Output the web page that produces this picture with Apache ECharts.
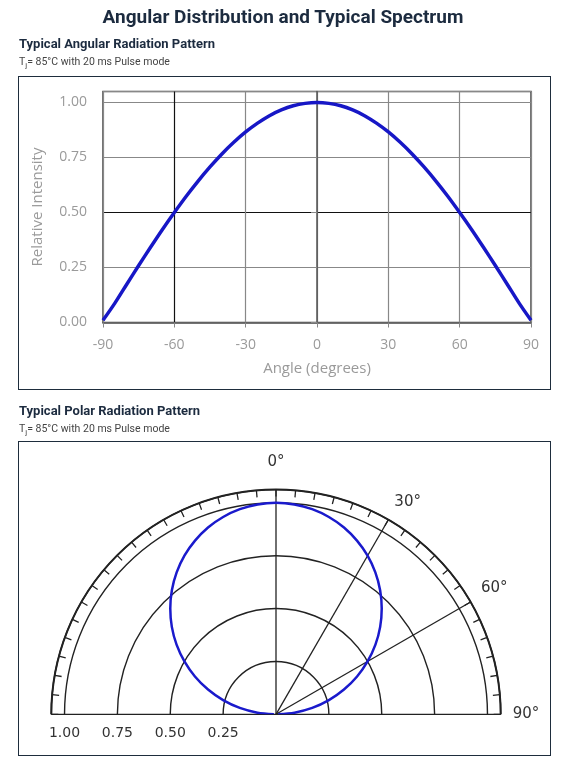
<!DOCTYPE html>
<html>
<head>
<meta charset="utf-8">
<script src="https://cdn.jsdelivr.net/npm/echarts@6/dist/echarts.min.js"></script>
<style>
  body { margin: 0; background: #fff; }
  #page { position: relative; width: 566px; height: 768px; font-family: Roboto, sans-serif; }
  #chart { position: absolute; left: 0; top: 0; width: 566px; height: 768px; }
  .t { position: absolute; white-space: nowrap; color: #1c2b3f; }
  .h1 { left: 0; width: 566px; text-align: center; top: 5px; font-size: 19px; font-weight: bold; }
  .h2 { left: 19px; font-size: 13px; font-weight: bold; }
  .sub { left: 19px; font-size: 10.5px; color: #444; }
  .sub sub { font-size: 8px; }
  .box { position: absolute; border: 1.5px solid #1e2d3d; box-sizing: border-box; pointer-events: none; }
</style>
</head>
<body>
<div id="page">
  <div id="chart"></div>
  <div class="t h1">Angular Distribution and Typical Spectrum</div>
  <div class="t h2" style="top:36px">Typical Angular Radiation Pattern</div>
  <div class="t sub" style="top:55px">T<sub>j</sub>= 85°C with 20 ms Pulse mode</div>
  <div class="box" style="left:18px;top:76px;width:533px;height:314px"></div>
  <div class="t h2" style="top:403px">Typical Polar Radiation Pattern</div>
  <div class="t sub" style="top:422px">T<sub>j</sub>= 85°C with 20 ms Pulse mode</div>
  <div class="box" style="left:18px;top:441px;width:533px;height:315px"></div>
</div>
<script>
// angle in degrees, relative intensity
var angles = [-90, -85, -80, -75, -70, -65, -60, -55, -50, -45, -40, -35, -30, -25, -20, -15, -10, -5,
              0, 5, 10, 15, 20, 25, 30, 35, 40, 45, 50, 55, 60, 65, 70, 75, 80, 85, 90];
var intensity = [0.01, 0.088, 0.174, 0.259, 0.342, 0.423, 0.500, 0.574, 0.643, 0.707, 0.766, 0.819, 0.866, 0.906, 0.940, 0.966, 0.985, 0.996,
                 1.000, 0.996, 0.985, 0.966, 0.940, 0.906, 0.866, 0.819, 0.766, 0.707, 0.643, 0.574, 0.500, 0.423, 0.342, 0.259, 0.174, 0.088, 0.01];
var xTicks = [-90, -60, -30, 0, 30, 60, 90];
var yTicks = ['0.00', '0.25', '0.50', '0.75', '1.00'];
var radiusTicks = ['0.25', '0.50', '0.75', '1.00'];
var angleTickLabels = ['0°', '30°', '60°', '90°'];

var chart = echarts.init(document.getElementById('chart'));

var lineData = angles.map(function (a, i) { return [a, intensity[i]]; });
var polarData = angles.map(function (a, i) { return [intensity[i], a]; });

var grayText = '#9a9a9a';

var option = {
    animation: false,
    grid: {
        left: 103, top: 91.5, width: 428, height: 231,
        show: true, borderColor: '#444', borderWidth: 1.5
    },
    xAxis: {
        type: 'value', min: -90, max: 90, interval: 30,
        name: 'Angle (degrees)', nameLocation: 'middle', nameGap: 39,
        nameTextStyle: { color: grayText, fontSize: 15, fontFamily: 'Open Sans' },
        axisLine: { show: true, lineStyle: { color: '#555', width: 1.5 } },
        axisTick: { show: true, length: 5, lineStyle: { color: '#888' } },
        axisLabel: {
            color: grayText, fontSize: 14, fontFamily: 'Open Sans', margin: 16,
            formatter: function (v) { return xTicks.indexOf(v) >= 0 ? String(v) : ''; }
        },
        splitLine: { show: true, lineStyle: { color: ['#888', '#111', '#888', '#888', '#888', '#888', '#888'], width: 1.2 } }
    },
    yAxis: {
        type: 'value', min: 0, max: 1.05, interval: 0.25,
        name: 'Relative Intensity', nameLocation: 'middle', nameGap: 58,
        nameTextStyle: { color: grayText, fontSize: 15, fontFamily: 'Open Sans' },
        axisLine: { show: true, lineStyle: { color: '#555', width: 1.5 } },
        axisTick: { show: true, length: 6, lineStyle: { color: '#888' } },
        axisLabel: {
            color: grayText, fontSize: 14, fontFamily: 'Open Sans', margin: 16, showMaxLabel: false,
            formatter: function (v) { var s = v.toFixed(2); return yTicks.indexOf(s) >= 0 ? s : ''; }
        },
        splitLine: { show: true, lineStyle: { color: ['#888', '#888', '#111', '#888', '#888', '#888'], width: 1.2 } }
    },
    polar: { center: [276, 714.3], radius: 224.7 },
    angleAxis: {
        type: 'value', min: -90, max: 90, interval: 30,
        startAngle: 180, endAngle: 0, clockwise: true,
        axisLine: { show: true, lineStyle: { color: '#222', width: 2 } },
        axisTick: { show: true, inside: true, length: 7, lineStyle: { color: '#222', width: 1.3 } },
        minorTick: { show: true, splitNumber: 6, length: 7, lineStyle: { color: '#222', width: 1.3 } },
        axisLabel: {
            color: '#333', fontSize: 15, fontFamily: 'DejaVu Sans', margin: 12,
            formatter: function (v) {
                var s = v + '°';
                if (angleTickLabels.indexOf(s) < 0) return '';
                return v === 0 ? '{top|' + s + '}' : s;
            },
            rich: { top: { fontSize: 15, fontFamily: 'DejaVu Sans', color: '#333', padding: [0, 0, 8, 0] } }
        },
        // radial lines only on the right half: -90, -60, -30, 0, 30, 60, 90
        splitLine: { show: true, lineStyle: { color: ['#222', 'rgba(0,0,0,0)', 'rgba(0,0,0,0)', '#222', '#222', '#222', '#222'], width: 1.3 } }
    },
    radiusAxis: {
        type: 'value', min: 0, max: 1.0625, interval: 0.25,
        axisLine: { show: false },
        axisTick: { show: false },
        axisLabel: {
            color: '#333', fontSize: 14, fontFamily: 'DejaVu Sans', margin: 12,
            formatter: function (v) { var s = v.toFixed(2); return radiusTicks.indexOf(s) >= 0 ? s : ''; }
        },
        splitLine: { show: true, lineStyle: { color: '#222', width: 1.4 } }
    },
    series: [
        {
            type: 'line', xAxisIndex: 0, yAxisIndex: 0,
            data: lineData, smooth: 0.3, showSymbol: false,
            lineStyle: { color: '#1717c6', width: 3.5 }
        },
        {
            type: 'line', coordinateSystem: 'polar',
            data: polarData, smooth: 0.3, showSymbol: false,
            lineStyle: { color: '#1a1acc', width: 2.5 }
        }
    ]
};
chart.setOption(option);
</script>
</body>
</html>
